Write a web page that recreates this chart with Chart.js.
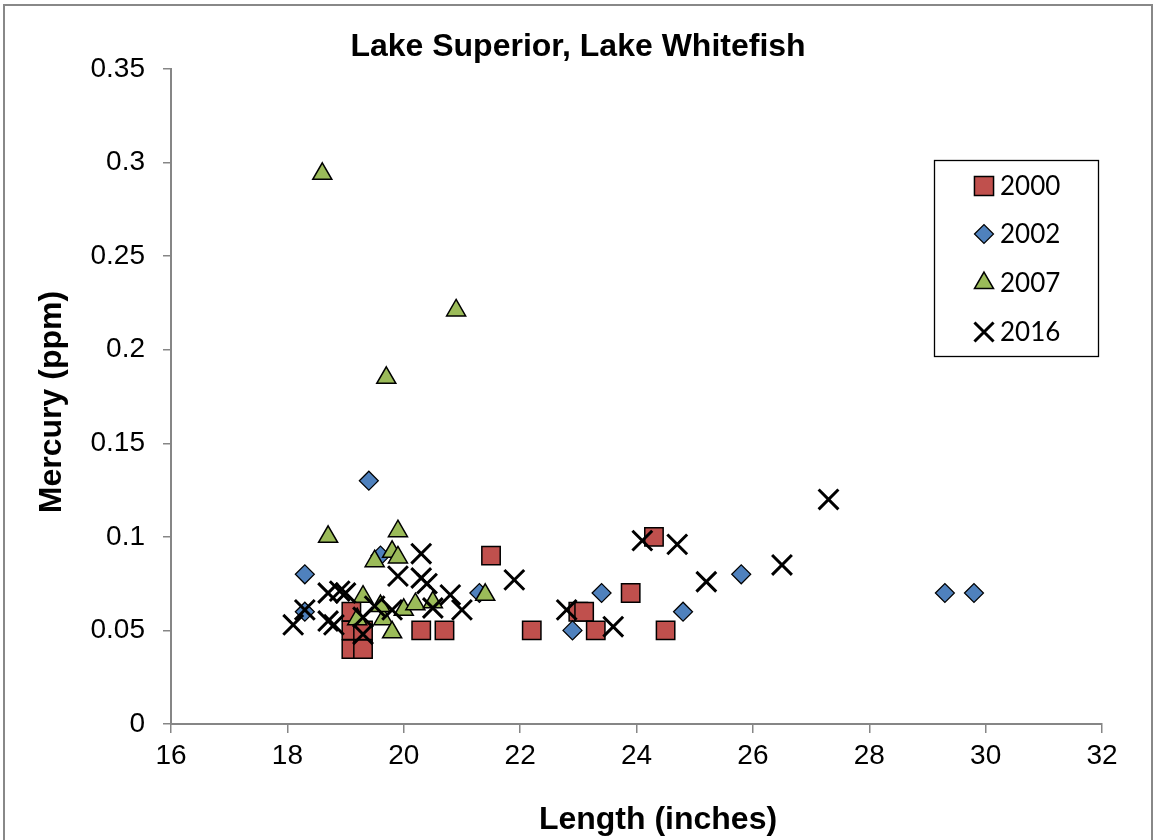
<!DOCTYPE html>
<html>
<head>
<meta charset="utf-8">
<script src="https://cdn.jsdelivr.net/npm/chart.js@4/dist/chart.umd.min.js"></script>
<style>
html,body{margin:0;padding:0;background:#fff;}
canvas{display:block;}
</style>
</head>
<body>
<canvas id="c" width="1156" height="840"></canvas>
<script>
// ---- data ----
const seriesNames = ['2000', '2002', '2007', '2016'];

const len2000 = [19.1, 19.1, 19.1, 19.3, 19.3, 20.3, 20.7, 21.5, 22.2, 23.0, 23.1, 23.3, 23.9, 24.3, 24.5];
const hg2000  = [0.06, 0.05, 0.04, 0.05, 0.04, 0.05, 0.05, 0.09, 0.05, 0.06, 0.06, 0.05, 0.07, 0.10, 0.05];

const len2002 = [18.3, 18.3, 19.4, 19.6, 21.3, 22.9, 23.4, 24.8, 25.8, 29.3, 29.8];
const hg2002  = [0.08, 0.06, 0.13, 0.09, 0.07, 0.05, 0.07, 0.06, 0.08, 0.07, 0.07];

const len2007 = [18.6, 20.9, 19.7, 18.7, 19.9, 19.8, 19.9, 19.5, 19.3, 21.4, 19.2, 19.65, 19.8, 20.0, 20.2, 20.5, 19.6];
const hg2007  = [0.294, 0.221, 0.185, 0.100, 0.103, 0.092, 0.089, 0.087, 0.068, 0.069, 0.056, 0.056, 0.049, 0.061, 0.064, 0.065, 0.063];

const len2016 = [18.1, 18.3, 18.7, 18.9, 19.0, 18.7, 18.8, 19.3, 19.3, 19.5, 19.8, 19.9, 20.3, 20.3, 20.4, 20.5, 20.8, 21.0, 21.9, 22.8, 23.6, 24.1, 24.7, 25.2, 26.5, 27.3];
const hg2016  = [0.053, 0.061, 0.070, 0.071, 0.070, 0.055, 0.053, 0.048, 0.057, 0.063, 0.061, 0.079, 0.091, 0.078, 0.075, 0.062, 0.069, 0.061, 0.077, 0.061, 0.052, 0.098, 0.096, 0.076, 0.085, 0.120];

const xTicks = [16, 18, 20, 22, 24, 26, 28, 30, 32];
const yTicks = [0, 0.05, 0.1, 0.15, 0.2, 0.25, 0.3, 0.35];

const chartTitle = 'Lake Superior, Lake Whitefish';
const xTitle = 'Length (inches)';
const yTitle = 'Mercury (ppm)';

function pts(xs, ys) { return xs.map((x, i) => ({x: x, y: ys[i]})); }

const AX = '#868686';
const FONT = '"Liberation Sans", Arial, sans-serif';

const styles = [
  {pointStyle: 'rect',     radius: 13,  bg: '#C0504D', border: '#000', bw: 1.5, lr: 13.5},
  {pointStyle: 'rectRot',  radius: 9.5, bg: '#4F81BD', border: '#000', bw: 1.2, lr: 9.5},
  {pointStyle: 'triangle', radius: 11,  bg: '#9BBB59', border: '#000', bw: 1.5, lr: 11},
  {pointStyle: 'crossRot', radius: 14,  bg: '#000',    border: '#000', bw: 3,   lr: 13.5}
];
const allData = [pts(len2000, hg2000), pts(len2002, hg2002), pts(len2007, hg2007), pts(len2016, hg2016)];

const datasets = seriesNames.map((name, i) => ({
  label: name,
  data: allData[i],
  pointStyle: styles[i].pointStyle,
  pointRadius: styles[i].radius,
  pointHoverRadius: styles[i].radius,
  backgroundColor: styles[i].bg,
  borderColor: styles[i].border,
  pointBorderWidth: styles[i].bw,
  showLine: false,
  order: 4 - i
}));

const frame = {
  id: 'frame',
  afterDraw(chart) {
    const ctx = chart.ctx;
    ctx.save();
    ctx.strokeStyle = '#888';
    ctx.lineWidth = 2;
    ctx.strokeRect(4, 5, 1148, 860);
    // axis titles
    ctx.fillStyle = '#000';
    ctx.font = 'bold 32px ' + FONT;
    ctx.textAlign = 'center';
    ctx.textBaseline = 'middle';
    ctx.fillText(xTitle, 658, 820);
    ctx.translate(52, 402);
    ctx.rotate(-Math.PI / 2);
    ctx.fillText(yTitle, 0, 0);
    ctx.restore();
  }
};

const boxLegend = {
  id: 'boxLegend',
  afterDatasetsDraw(chart) {
    const ctx = chart.ctx;
    ctx.save();
    const L = 934.5, T = 160.5, R = 1098.5, B = 356.5;
    ctx.fillStyle = '#fff';
    ctx.fillRect(L, T, R - L, B - T);
    ctx.strokeStyle = '#000';
    ctx.lineWidth = 1.3;
    ctx.strokeRect(L, T, R - L, B - T);
    const rows = [186, 234, 283, 332];
    chart.data.datasets.forEach((ds, i) => {
      const st = styles[i];
      const y = rows[i];
      ctx.fillStyle = st.bg;
      ctx.strokeStyle = st.border;
      ctx.lineWidth = st.bw;
      Chart.helpers.drawPoint(ctx, {pointStyle: st.pointStyle, radius: st.lr, rotation: 0, borderWidth: st.bw}, 984, y);
      ctx.fillStyle = '#000';
      ctx.font = '26px Lato, "Open Sans", sans-serif';
      ctx.textAlign = 'left';
      ctx.textBaseline = 'middle';
      ctx.fillText(ds.label, 1000, y + 1);
    });
    ctx.restore();
  }
};

new Chart(document.getElementById('c'), {
  type: 'scatter',
  data: {datasets: datasets},
  options: {
    responsive: false,
    devicePixelRatio: 1,
    animation: false,
    events: [],
    layout: {padding: {left: 0, right: 0, top: 0, bottom: 0}},
    plugins: {
      legend: {display: false},
      tooltip: {enabled: false},
      title: {
        display: true,
        text: chartTitle,
        color: '#000',
        font: {family: FONT, size: 32, weight: 'bold', lineHeight: 1.2},
        padding: {top: 28, bottom: 2.6}
      }
    },
    scales: {
      x: {
        type: 'linear',
        min: 16, max: 32,
        afterBuildTicks(scale) { scale.ticks = xTicks.map(v => ({value: v})); },
        afterFit(scale) { scale.height = 116; },
        ticks: {color: '#000', font: {family: FONT, size: 28}, padding: 6,
                callback: v => String(v)},
        grid: {display: true, drawOnChartArea: false, drawTicks: true, tickLength: 9, color: AX, lineWidth: 1.5},
        border: {display: true, color: AX, width: 2},
        title: {display: false}
      },
      y: {
        type: 'linear',
        min: 0, max: 0.35,
        afterBuildTicks(scale) { scale.ticks = yTicks.map(v => ({value: v})); },
        afterFit(scale) { scale.width = 171; },
        ticks: {color: '#000', font: {family: FONT, size: 28}, padding: 18,
                callback: v => String(Math.round(v * 100) / 100)},
        grid: {display: true, drawOnChartArea: false, drawTicks: true, tickLength: 8, color: AX, lineWidth: 1.5},
        border: {display: true, color: AX, width: 2},
        title: {display: false}
      },
      yRightSpace: {
        type: 'linear',
        position: 'right',
        display: true,
        min: 0, max: 0.35,
        afterFit(scale) { scale.width = 54; },
        ticks: {display: false},
        grid: {display: false, drawTicks: false},
        border: {display: false}
      }
    }
  },
  plugins: [frame, boxLegend]
});
</script>
</body>
</html>
